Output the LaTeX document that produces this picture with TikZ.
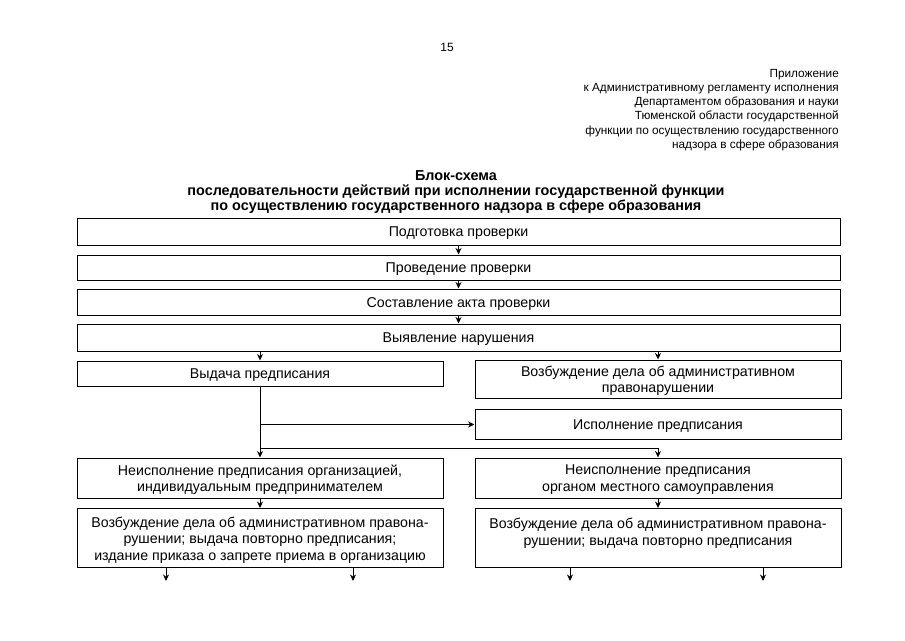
\documentclass[tikz,border=0pt]{standalone}
\usepackage{fontspec}
\setmainfont{Liberation Sans}
\usetikzlibrary{arrows.meta}
\begin{document}
\begin{tikzpicture}[x=1pt,y=-1pt,
  txt/.style={inner sep=0pt, align=center, font=\fontsize{14.2}{16.5}\selectfont},
  box/.style={draw=black, line width=1pt, inner sep=0pt,
    label={[txt, yshift=-1.8pt]center:{#1}}},
  wide/.style={box={#1}, minimum width=763pt},
  half/.style={box={#1}, minimum width=366pt},
  arr/.style={line width=1pt, -{Stealth[length=6.5pt,width=6pt]}}]
\useasboundingbox (0,0) rectangle (905,640);
\fill[white] (0,0) rectangle (905,640);

\node[font=\fontsize{12}{14}\selectfont] (pg) at (447,47) {15};
\node[anchor=north east, align=right, inner sep=0pt,
  font=\fontsize{11.8}{14.2}\selectfont] (hdr) at (839,69)
  {Приложение\\к Административному регламенту исполнения\\Департаментом образования и науки\\Тюменской области государственной\\функции по осуществлению государственного\\надзора в сфере образования};
\node[align=center, inner sep=0pt, font=\bfseries\fontsize{14.4}{15}\selectfont] (ttl) at (456,192.5)
  {Блок-схема\\последовательности действий при исполнении государственной функции\\по осуществлению государственного надзора в сфере образования};

\node[wide={Подготовка проверки}, minimum height=27pt] (b1) at (458.5,231.5) {};
\node[wide={Проведение проверки}, minimum height=25pt] (b2) at (458.5,267.5) {};
\node[wide={Составление акта проверки}, minimum height=26pt] (b3) at (458.5,302) {};
\node[wide={Выявление нарушения}, minimum height=27pt] (b4) at (458.5,337.5) {};

\node[half={Выдача предписания}, minimum height=25pt] (vyd) at (260,373.5) {};
\node[half={Возбуждение дела об административном\\правонарушении}, minimum height=38pt] (voz) at (658,379) {};
\node[half={Исполнение предписания}, minimum height=30pt] (isp) at (658,424.5) {};
\node[half={Неисполнение предписания организацией,\\индивидуальным предпринимателем}, minimum height=40pt] (nl) at (260,478) {};
\node[half={Неисполнение предписания\\органом местного самоуправления}, minimum height=40pt] (nr) at (658,478) {};
\node[half={Возбуждение дела об административном правона-\\рушении; выдача повторно предписания;\\издание приказа о запрете приема в организацию}, minimum height=59pt] (vl) at (260,538) {};
\node[half={Возбуждение дела об административном правона-\\рушении; выдача повторно предписания\\\mbox{}}, minimum height=59pt] (vr) at (658,538) {};

\draw[arr] (b1) -- (b2);
\draw[arr] (b2) -- (b3);
\draw[arr] (b3) -- (b4);
\draw[arr] (vyd.north |- b4.south) -- (vyd.north);
\draw[arr] (voz.north |- b4.south) -- (voz.north);
\draw[arr] (vyd.south) -- (nl.north);
\draw[arr] (vyd.south |- isp.west) -- (isp.west);
\coordinate (j1) at (260,448);
\draw[arr] (j1) -| (nr.north);
\draw[arr] (nl) -- (vl);
\draw[arr] (nr) -- (vr);

\coordinate (e1) at (166,581);
\coordinate (e2) at (353,581);
\coordinate (e3) at (570,581);
\coordinate (e4) at (763,581);
\draw[arr] (e1 |- vl.south) -- (e1);
\draw[arr] (e2 |- vl.south) -- (e2);
\draw[arr] (e3 |- vr.south) -- (e3);
\draw[arr] (e4 |- vr.south) -- (e4);
\end{tikzpicture}
\end{document}
